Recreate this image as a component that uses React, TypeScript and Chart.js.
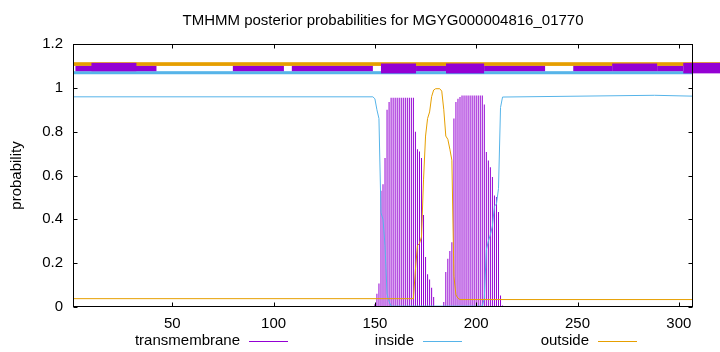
import React, { useEffect, useRef } from "react";
import { Chart, registerables } from "chart.js";

Chart.register(...registerables);

const chartTitle = "TMHMM posterior probabilities for MGYG000004816_01770";
const yAxisTitle = "probability";
const seqLength = 307;
const xTicks = [50, 100, 150, 200, 250, 300];
const yTicks = [0, 0.2, 0.4, 0.6, 0.8, 1, 1.2];

// transmembrane posterior, one value per residue starting at tmStart
const tmStart = 150;
const tmValues = [
  0.012, 0.06, 0.107, 0.53, 0.56, 0.68, 0.9, 0.935,
  0.955, 0.955, 0.955, 0.955, 0.955, 0.955, 0.955, 0.955, 0.955, 0.955, 0.955, 0.955,
  0.8, 0.72, 0.71, 0.68, 0.42, 0.228, 0.149, 0.125, 0.088, 0.046, 0.005, 0, 0, 0,
  0.023, 0.16, 0.22, 0.255, 0.295, 0.86, 0.935, 0.95, 0.958,
  0.965, 0.965, 0.965, 0.965, 0.965, 0.965, 0.965, 0.965, 0.965, 0.965, 0.965,
  0.924, 0.707, 0.669, 0.638, 0.593, 0.509, 0.502, 0.433, 0.053, 0.007,
];

// inside posterior (residue, value)
const insideX = [1, 149, 150, 151, 152, 153, 154, 155, 156, 157, 158, 203, 204, 205, 206, 207, 208, 209, 210, 211, 212, 213, 288, 307];
const insideY = [0.959, 0.959, 0.95, 0.9, 0.86, 0.43, 0.4, 0.28, 0.06, 0.025, 0.004, 0.004, 0.04, 0.26, 0.3, 0.33, 0.37, 0.46, 0.47, 0.54, 0.91, 0.958, 0.966, 0.962];

// outside posterior (residue, value)
const outsideX = [1, 169, 170, 171, 172, 173, 174, 175, 176, 177, 178, 179, 180, 182, 183, 184, 185, 186, 187, 188, 189, 190, 191, 192, 307];
const outsideY = [0.038, 0.038, 0.17, 0.28, 0.29, 0.32, 0.58, 0.78, 0.86, 0.89, 0.96, 0.99, 0.996, 0.996, 0.985, 0.9, 0.78, 0.765, 0.72, 0.67, 0.14, 0.055, 0.04, 0.034, 0.034];

// topology band (residue from, residue to, y low, y high)
const outsideBand = [1, 320.5, 1.1, 1.117];
const insideBand = [1, 307, 1.062, 1.076];
const tmBoxFrom = [2.2, 10.1, 79.9, 109, 153, 170.3, 185.1, 203.9, 247.9, 267.1, 289.3, 302.2];
const tmBoxTo = [42.2, 32.3, 105.1, 149, 170.3, 185.1, 203.9, 234, 267.1, 289.3, 302.2, 320.5];
const tmBoxLow = [1.076, 1.076, 1.076, 1.076, 1.066, 1.076, 1.066, 1.076, 1.076, 1.076, 1.076, 1.066];
const tmBoxHigh = [1.1, 1.114, 1.1, 1.1, 1.111, 1.1, 1.111, 1.1, 1.1, 1.111, 1.1, 1.114];

const legendLabels = ["transmembrane", "inside", "outside"];
const COLORS = { tm: "#9400D3", inside: "#56B4E9", outside: "#E69F00" };
const legendColors = [COLORS.tm, COLORS.inside, COLORS.outside];

const FONT = "'Liberation Sans', Arial, sans-serif";

const decorPlugin = {
  id: "decor",
  afterDraw(chart: any) {
    const { ctx, chartArea: a, scales } = chart;
    const xs = scales.x;
    const ys = scales.y;
    ctx.save();
    const rect = (x0: number, x1: number, y0: number, y1: number, color: string) => {
      const px0 = xs.getPixelForValue(x0);
      const px1 = xs.getPixelForValue(x1);
      const py0 = ys.getPixelForValue(y1);
      const py1 = ys.getPixelForValue(y0);
      ctx.fillStyle = color;
      ctx.fillRect(px0, py0, px1 - px0, py1 - py0);
    };
    rect(outsideBand[0], outsideBand[1], outsideBand[2], outsideBand[3], COLORS.outside);
    rect(insideBand[0], insideBand[1], insideBand[2], insideBand[3], COLORS.inside);
    for (let i = 0; i < tmBoxFrom.length; i++) {
      rect(tmBoxFrom[i], tmBoxTo[i], tmBoxLow[i], tmBoxHigh[i], COLORS.tm);
    }

    // frame
    ctx.strokeStyle = "#000";
    ctx.lineWidth = 1;
    const L = Math.round(a.left) + 0.5;
    const R = Math.round(a.right) - 0.5;
    const T = Math.round(a.top) + 0.5;
    const B = Math.round(a.bottom) - 0.5;
    ctx.strokeRect(L, T, R - L, B - T);
    // inward ticks
    const tl = 4;
    ctx.beginPath();
    for (const v of xTicks) {
      const px = Math.round(xs.getPixelForValue(v)) + 0.5;
      ctx.moveTo(px, B);
      ctx.lineTo(px, B - tl);
      ctx.moveTo(px, T);
      ctx.lineTo(px, T + tl);
    }
    for (const v of yTicks) {
      const py = Math.round(ys.getPixelForValue(v)) + 0.5;
      ctx.moveTo(L, py);
      ctx.lineTo(L + tl, py);
      ctx.moveTo(R, py);
      ctx.lineTo(R - tl, py);
    }
    ctx.stroke();

    // title
    ctx.fillStyle = "#000";
    ctx.font = `15px ${FONT}`;
    ctx.textAlign = "center";
    ctx.textBaseline = "middle";
    ctx.fillText(chartTitle, (a.left + a.right) / 2, 21);

    // y axis title
    ctx.save();
    ctx.translate(17, (a.top + a.bottom) / 2);
    ctx.rotate(-Math.PI / 2);
    ctx.fillText(yAxisTitle, 0, 0);
    ctx.restore();

    // legend
    const textEnds = [240, 414, 589];
    ctx.textAlign = "right";
    for (let i = 0; i < legendLabels.length; i++) {
      ctx.fillStyle = "#000";
      ctx.fillText(legendLabels[i], textEnds[i], 341);
      ctx.strokeStyle = legendColors[i];
      ctx.beginPath();
      ctx.moveTo(textEnds[i] + 9, 341.5);
      ctx.lineTo(textEnds[i] + 48, 341.5);
      ctx.stroke();
    }
    ctx.restore();
  },
};

export default function App() {
  const canvasRef = useRef<HTMLCanvasElement | null>(null);

  useEffect(() => {
    document.body.style.margin = "0";
    const canvas = canvasRef.current;
    if (!canvas) return;
    const tmData = tmValues.map((v, i) => ({ x: tmStart + i, y: v }));
    const insideData = insideX.map((x, i) => ({ x, y: insideY[i] }));
    const outsideData = outsideX.map((x, i) => ({ x, y: outsideY[i] }));

    const chart = new Chart(canvas, {
      type: "bar",
      data: {
        datasets: [
          {
            type: "bar",
            label: "transmembrane",
            data: tmData,
            backgroundColor: COLORS.tm,
            barThickness: 1,
            inflateAmount: 0,
            borderWidth: 0,
            order: 2,
          } as any,
          {
            type: "line",
            label: "inside",
            data: insideData,
            borderColor: COLORS.inside,
            borderWidth: 1,
            pointRadius: 0,
            tension: 0,
            fill: false,
            order: 1,
          } as any,
          {
            type: "line",
            label: "outside",
            data: outsideData,
            borderColor: COLORS.outside,
            borderWidth: 1,
            pointRadius: 0,
            tension: 0,
            fill: false,
            order: 0,
          } as any,
        ],
      },
      options: {
        animation: false,
        responsive: false,
        devicePixelRatio: 1,
        layout: { padding: { top: 44, right: 27, left: 0, bottom: 0 } },
        plugins: {
          legend: { display: false },
          title: { display: false },
          tooltip: { enabled: false },
        },
        scales: {
          x: {
            type: "linear",
            min: 1,
            max: seqLength,
            offset: false,
            grid: { display: false, drawTicks: false },
            border: { display: false },
            afterBuildTicks: (s: any) => {
              s.ticks = xTicks.map((v) => ({ value: v }));
            },
            afterFit: (s: any) => {
              s.height = 45;
            },
            ticks: {
              autoSkip: false,
              maxRotation: 0,
              padding: 8,
              color: "#000",
              font: { family: FONT, size: 15 },
              callback: (v: any) => String(v),
            },
          },
          y: {
            type: "linear",
            min: 0,
            max: 1.2,
            grid: { display: false, drawTicks: false },
            border: { display: false },
            afterBuildTicks: (s: any) => {
              s.ticks = yTicks.map((v) => ({ value: v }));
            },
            afterFit: (s: any) => {
              s.width = 73;
            },
            ticks: {
              padding: 10,
              color: "#000",
              font: { family: FONT, size: 15 },
              callback: (v: any) => String(Number(Number(v).toFixed(1))),
            },
          },
        },
      } as any,
      plugins: [decorPlugin],
    });
    return () => chart.destroy();
  }, []);

  return (
    <div style={{ position: "absolute", left: 0, top: 0, width: 720, height: 352 }}>
      <canvas ref={canvasRef} width={720} height={352} />
    </div>
  );
}
